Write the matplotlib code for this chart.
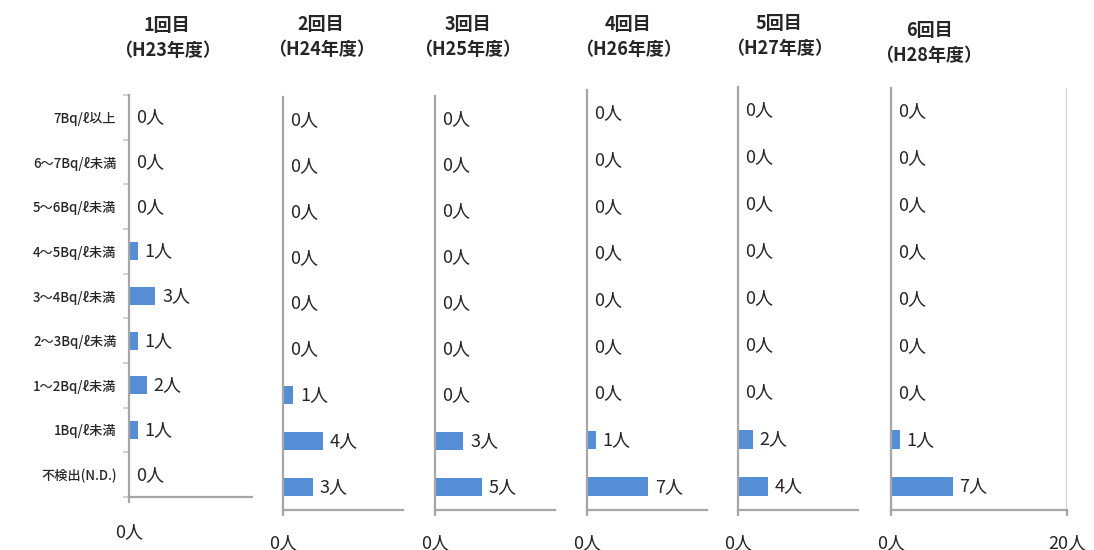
import matplotlib
matplotlib.use("Agg")
import matplotlib.pyplot as plt
import numpy as np

plt.rcParams['font.family'] = ['Noto Sans CJK JP', 'DejaVu Sans']

categories = ["7Bq/ℓ以上", "6～7Bq/ℓ未満", "5～6Bq/ℓ未満", "4～5Bq/ℓ未満",
              "3～4Bq/ℓ未満", "2～3Bq/ℓ未満", "1～2Bq/ℓ未満", "1Bq/ℓ未満", "不検出(N.D.)"]
titles = ["1回目\n（H23年度）", "2回目\n（H24年度）", "3回目\n（H25年度）",
          "4回目\n（H26年度）", "5回目\n（H27年度）", "6回目\n（H28年度）"]
round1 = [0, 0, 0, 1, 3, 1, 2, 1, 0]
round2 = [0, 0, 0, 0, 0, 0, 1, 4, 3]
round3 = [0, 0, 0, 0, 0, 0, 0, 3, 5]
round4 = [0, 0, 0, 0, 0, 0, 0, 1, 7]
round5 = [0, 0, 0, 0, 0, 0, 0, 2, 4]
round6 = [0, 0, 0, 0, 0, 0, 0, 1, 7]
series = [round1, round2, round3, round4, round5, round6]
unit = "人"

# layout (pixels): left, right, top, bottom, xmax, title center x, title y
W, H = 1094, 550
panels = [
    (129, 252, 95, 497, 14.0, 167, 38),
    (283, 403, 97, 510, 12.0, 321, 37),
    (435, 555, 96, 510, 12.8, 468, 37),
    (587, 707, 90, 510, 13.8, 628, 37),
    (738, 858, 87, 510, 16.2, 779, 36),
    (891, 1067, 88, 510, 20.0, 929, 43),
]

fig = plt.figure(figsize=(W / 100, H / 100), dpi=100)
axis_col = '#a6a6a6'
bar_col = '#558ED5'
txt_col = '#262626'

n = len(categories)
ypos = np.arange(n)[::-1]

for i, (vals, title, p) in enumerate(zip(series, titles, panels)):
    l, r, t, b, xmax, tx, ty = p
    ax = fig.add_axes([l / W, 1 - b / H, (r - l) / W, (b - t) / H])
    ax.barh(ypos, vals, height=0.4, color=bar_col)
    ax.set_xlim(0, xmax)
    ax.set_ylim(-0.5, n - 0.5)
    for y, v in zip(ypos, vals):
        ax.annotate(f"{v}{unit}", (v, y), xytext=(5, 0), textcoords='offset points',
                    ha='left', va='center', fontsize=13, color=txt_col)
    for s in ['top', 'right']:
        ax.spines[s].set_visible(False)
    for s in ['left', 'bottom']:
        ax.spines[s].set_color(axis_col)
        ax.spines[s].set_linewidth(1.6)
    if i == len(series) - 1:
        ax.set_xticks([0, 20])
        ax.set_xticklabels([f"0{unit}", f"20{unit}"])
        ax.xaxis.grid(True, color='#d0d0d0', linewidth=1.6)
    else:
        ax.set_xticks([0])
        ax.set_xticklabels([f"0{unit}"])
    ax.tick_params(axis='x', length=4, width=1.6, color=axis_col,
                   pad=15 if i == 0 else 13, labelsize=13, labelcolor=txt_col)
    if i == 0:
        ax.set_yticks(ypos)
        ax.set_yticklabels(categories, fontsize=9.5, color=txt_col, fontweight='medium')
        ax.set_yticks(np.arange(-0.5, n, 1.0), minor=True)
        ax.tick_params(axis='y', which='major', length=0, pad=9)
        ax.tick_params(axis='y', which='minor', length=4, width=1.2, color='#c8c8c8')
    else:
        ax.set_yticks([])
    ax.set_axisbelow(True)
    fig.text(tx / W, 1 - ty / H, title, ha='center', va='center', fontsize=13,
             fontweight='bold', color=txt_col, linespacing=1.45)

fig.savefig("out.png", dpi=100)
